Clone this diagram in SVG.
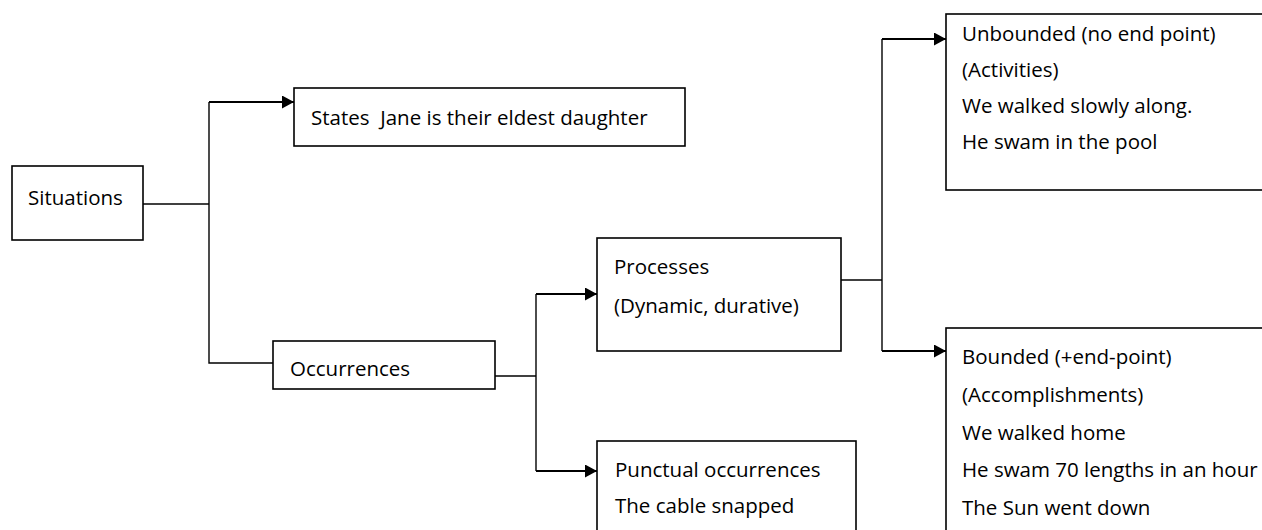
<svg xmlns="http://www.w3.org/2000/svg" width="1262" height="530" viewBox="0 0 1262 530">
<style>
.box{fill:#fff;stroke:#000;stroke-width:1.6}
.t{font-family:"Open Sans","Liberation Sans",sans-serif;font-size:20.5px;fill:#000;white-space:pre}
.ln{fill:none;stroke:#000;stroke-width:1.4}
.ar{fill:none;stroke:#000;stroke-width:2;marker-end:url(#arr)}
</style>
<defs>
<marker id="arr" markerUnits="userSpaceOnUse" markerWidth="12" markerHeight="13" refX="12" refY="6.5" orient="auto">
<path d="M0,0 L12,6.5 L0,13 z" fill="#000"/>
</marker>
</defs>
<rect width="1262" height="530" fill="#fff"/>
<g id="connectors">
<path class="ln" d="M143,204 H209"/>
<path class="ln" d="M209,102 V363 H273"/>
<path class="ar" d="M209,102 H294"/>
<path class="ln" d="M495,376 H536"/>
<path class="ln" d="M536,294 V471"/>
<path class="ar" d="M536,294 H597"/>
<path class="ar" d="M536,471 H597"/>
<path class="ln" d="M841,280 H882"/>
<path class="ln" d="M882,39 V351"/>
<path class="ar" d="M882,39 H946"/>
<path class="ar" d="M882,351 H946"/>
</g>
<g id="situations">
<rect class="box" x="12" y="166" width="131" height="74"/>
<text class="t" x="28" y="205">Situations</text>
</g>
<g id="states">
<rect class="box" x="294" y="88" width="391" height="58"/>
<text class="t" x="311" y="125">States  Jane is their eldest daughter</text>
</g>
<g id="occurrences">
<rect class="box" x="273" y="341" width="222" height="48"/>
<text class="t" x="290" y="376">Occurrences</text>
</g>
<g id="processes">
<rect class="box" x="597" y="238" width="244" height="113"/>
<text class="t" x="614" y="274">Processes</text>
<text class="t" x="614" y="313">(Dynamic, durative)</text>
</g>
<g id="punctual">
<rect class="box" x="597" y="441" width="259" height="100"/>
<text class="t" x="615" y="477">Punctual occurrences</text>
<text class="t" x="615" y="513">The cable snapped</text>
</g>
<g id="unbounded">
<rect class="box" x="946" y="14" width="330" height="176"/>
<text class="t" x="962" y="41">Unbounded (no end point)</text>
<text class="t" x="962" y="77">(Activities)</text>
<text class="t" x="962" y="113">We walked slowly along.</text>
<text class="t" x="962" y="149">He swam in the pool</text>
</g>
<g id="bounded">
<rect class="box" x="946" y="328" width="330" height="210"/>
<text class="t" x="962" y="364">Bounded (+end-point)</text>
<text class="t" x="962" y="402">(Accomplishments)</text>
<text class="t" x="962" y="440">We walked home</text>
<text class="t" x="962" y="477">He swam 70 lengths in an hour</text>
<text class="t" x="962" y="515">The Sun went down</text>
</g>
</svg>
